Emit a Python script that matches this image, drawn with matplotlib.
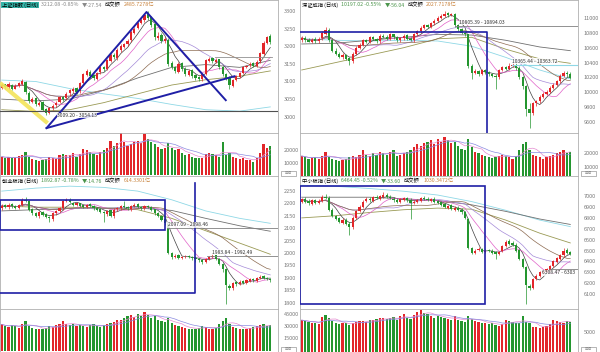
import numpy as np
import pandas as pd
import matplotlib
matplotlib.use('Agg')
import matplotlib.pyplot as plt
from matplotlib.patches import Rectangle

plt.rcParams['font.family'] = ['Noto Sans CJK SC', 'DejaVu Sans']

# ---------------------------------------------------------------- data
ma_idx = [0, 10, 20, 30, 40, 50, 60, 70, 79]

# 上证指数
sh_close = [3090,3085,3092,3080,3088,3095,3100, 3070,3045,3050,3035,3040,3020,3010,
            3025,3030,3040,3055,3050,3065,3075, 3080,3070,3095,3120,3130,3115,3110,
            3125,3140,3135,3160,3175,3170,3190, 3200,3205,3215,3240,3250,3265,3275,3288,
            3280,3260,3225,3230,3215,3220,3150, 3140,3130,3150,3135,3120,3130,3115,3110,3108,
            3120,3160,3165,3158,3162,3140, 3120,3110,3090,3105,
            3115,3125,3140,3145,3150,3145,3155, 3180,3210,3225,3212]
sh_open = [3082,3092,3083,3090,3080,3088,3093, 3098,3068,3042,3052,3033,3042,3022,
           3012,3026,3032,3042,3056,3052,3066, 3072,3082,3072,3096,3118,3128,3117,
           3108,3127,3141,3136,3158,3176,3168, 3188,3198,3207,3217,3238,3252,3266,3274,
           3290,3282,3262,3222,3232,3214,3218, 3152,3142,3128,3152,3136,3118,3132,3117,3112,
           3106,3122,3158,3167,3156,3163, 3142,3122,3112,3088,
           3103,3113,3124,3142,3147,3152,3143, 3157,3178,3208,3228]
sh_high = [3095,3094,3098,3092,3092,3098,3108, 3100,3072,3055,3055,3045,3045,3025,
           3028,3035,3045,3060,3060,3070,3080, 3085,3085,3098,3125,3135,3132,3120,
           3128,3145,3145,3165,3180,3180,3195, 3205,3210,3220,3245,3255,3270,3280,3292,
           3300,3285,3265,3240,3238,3225,3222, 3158,3145,3155,3155,3140,3135,3135,3120,3115,
           3125,3165,3170,3170,3168,3165, 3145,3125,3115,3108,
           3118,3128,3145,3148,3155,3155,3160, 3185,3215,3230,3235]
sh_low = [3078,3080,3080,3075,3078,3085,3090, 3065,3040,3038,3030,3030,3015,3005,
          3008,3020,3028,3038,3045,3048,3060, 3068,3065,3068,3092,3115,3110,3105,
          3105,3122,3130,3132,3155,3165,3162, 3185,3195,3202,3212,3235,3248,3262,3270,
          3275,3255,3218,3218,3210,3210,3145, 3135,3125,3125,3130,3115,3115,3110,3105,3102,
          3100,3118,3155,3152,3152,3135, 3115,3105,3080,3085,
          3100,3110,3120,3138,3142,3140,3140, 3152,3175,3205,3205]
sh_vol = [15000,14000,14500,13500,14000,15500,16500, 19000,15000,13000,12000,11500,12000,13000,
          15000,14000,13000,16000,17000,16500,16000, 18000,15000,17000,21000,20000,18500,17000,
          16000,19000,20000,22000,28000,24000,26000, 34000,27000,24000,25000,27000,28000,26000,33000,
          29000,27000,25000,23000,21000,22000,26000, 22000,20000,21000,18000,16000,17000,15000,14000,13500,
          14000,17000,18000,17000,16000,15000, 27000,16000,18000,15000,
          14000,13000,13500,12000,12500,11000,14000, 18000,25000,22000,24000]
sh_ma_cyan = [3104, 3100, 3080, 3065, 3052, 3035, 3020, 3016, 3028]
sh_ma_gray = [3050, 3045, 3050, 3075, 3110, 3140, 3148, 3140, 3160]
sh_ma_olive = [3020, 3015, 3020, 3040, 3065, 3090, 3105, 3115, 3130]

# 深证成指
sz_close = [10730,10700,10680,10710,10690,10720, 10800,10840,
            10700,10560,10520,10480,10500,10450,10420, 10520,10600,10640,
            10700,10680,10740,10720,10690,10760,
            10750,10720,10780,10740,10700,10730,10760,10720,10700,
            10780,10820,10870,10900,10880,10930,10960, 11000,11030,11060,11040,11050,
            10900,10850,10800,10780, 10350,10260,
            10280,10250,10300,10270,10240,10220,10200, 10300,10340,10320,10360,10370,
            10330,10200,10080, 9780,9720, 9850,9880,9940,9980,10010,
            10060,10100,10150,10220,10260,10240,10197]
sz_open = [10700,10735,10705,10680,10715,10690, 10725,10790,
           10840,10700,10560,10520,10470,10505,10455, 10420,10520,10600,
           10640,10705,10680,10745,10720,10690,
           10760,10750,10720,10780,10740,10700,10725,10765,10720,
           10700,10780,10820,10870,10905,10880,10930, 10960,11000,11030,11065,11040,
           11050,10900,10850,10800, 10780,10350,
           10260,10285,10250,10305,10270,10240,10225, 10200,10300,10345,10320,10360,
           10370,10330,10200, 10080,9780, 9720,9850,9880,9940,9980,
           10010,10060,10100,10150,10220,10265,10240]
sz_high = [10760,10760,10730,10730,10740,10740, 10830,10880,
           10860,10720,10590,10540,10530,10520,10470, 10540,10620,10660,
           10720,10720,10760,10760,10730,10780,
           10790,10770,10800,10790,10760,10750,10780,10780,10740,
           10800,10840,10890,10920,10920,10950,10980, 11020,11060,11100,11080,11070,
           11070,10920,10870,10820, 10790,10380,
           10310,10300,10320,10320,10290,10260,10240, 10320,10360,10360,10390,10400,
           10390,10350,10220, 10100,9850, 9870,9900,9960,10000,10030,
           10080,10120,10170,10240,10290,10290,10270]
sz_low = [10680,10680,10680,10660,10670,10670, 10700,10770,
          10680,10540,10500,10460,10450,10430,10370, 10400,10500,10580,
          10620,10660,10660,10700,10670,10670,
          10730,10700,10700,10720,10680,10680,10700,10700,10690,
          10680,10760,10800,10850,10860,10860,10910, 10940,10980,11010,11010,11020,
          10880,10830,10780,10760, 10330,10180,
          10240,10220,10230,10250,10220,10200,10050, 10180,10280,10300,10300,10340,
          10300,10180,10040, 9680,9520, 9700,9820,9860,9920,9960,
          9990,10040,10080,10130,10200,10210,10180]
sz_vol = [18000,17000,16000,16500,17500,16000, 18000,21000,
          17000,16000,15000,14500,15000,16000,17000, 18000,17000,19000,
          22000,19000,18000,20000,19000,21000,
          20000,19000,21000,22000,18000,19000,20000,21000,22000,
          24000,26000,25000,27000,28000,29000,26000, 30000,28000,31000,29000,27000,
          28000,25000,23000,22000, 30000,24000,
          21000,20000,19000,18000,17000,16500,17000, 18000,19000,18000,17000,16000,
          18000,22000,26000, 28000,22000, 19000,18000,17000,16000,17000,
          18000,19000,20000,21000,22000,20000,21000]
sz_ma_cyan = [10720, 10700, 10690, 10700, 10690, 10620, 10470, 10300, 10180]
sz_ma_gray = [10650, 10660, 10700, 10740, 10780, 10770, 10700, 10610, 10560]
sz_ma_olive = [10300, 10400, 10500, 10600, 10720, 10740, 10580, 10450, 10390]

# 创业板指
cyb_close = [2190,2185,2195,2188,2182,2192, 2215,2210,
             2175,2160,2150,2165,2155,2145,2140, 2160,2170,2180,
             2210,2215,2205,2195,2200,2190,
             2185,2195,2190,2180,2175,2165,2160,2170,2150,
             2175,2180,2190,2185,2180,2190,2195, 2185,2180,2190,2185,2175,
             2160,2150,2135,2120, 2000,1985,
             1990,1980,1985,1988,1982,1978,1975, 1970,1965,1975,1985,1990,
             1975,1955,1935, 1870,1860, 1880,1875,1885,1880,1890,
             1895,1890,1900,1905,1900,1895,1893]
cyb_open = [2180,2192,2184,2196,2190,2183, 2192,2216,
            2210,2176,2162,2148,2166,2156,2146, 2138,2160,2170,
            2180,2212,2216,2204,2194,2201,
            2192,2184,2196,2191,2181,2176,2166,2158,2172,
            2148,2176,2180,2191,2186,2178,2190, 2196,2186,2180,2191,2186,
            2176,2162,2150,2136, 2118,2000,
            1984,1991,1980,1986,1989,1983,1979, 1976,1971,1964,1976,1984,
            1991,1976,1956, 1934,1868, 1858,1882,1874,1886,1879,
            1889,1896,1889,1899,1906,1901,1896]
cyb_high = [2198,2196,2200,2200,2194,2198, 2222,2225,
            2214,2180,2166,2170,2170,2160,2150, 2165,2175,2185,
            2215,2222,2222,2208,2205,2204,
            2195,2198,2200,2195,2185,2180,2170,2175,2175,
            2180,2185,2195,2210,2190,2195,2200, 2200,2190,2195,2195,2190,
            2178,2165,2152,2140, 2120,2005,
            1995,1995,1990,1992,1992,1988,1982, 1980,1975,1978,1990,1998,
            1994,1980,1960, 1938,1875, 1885,1888,1890,1892,1895,
            1900,1900,1905,1910,1910,1905,1900]
cyb_low = [2175,2180,2178,2182,2178,2178, 2188,2205,
           2170,2155,2145,2142,2150,2140,2125, 2130,2155,2165,
           2175,2205,2200,2188,2190,2185,
           2180,2180,2185,2175,2170,2160,2125,2150,2145,
           2140,2170,2175,2180,2175,2170,2185, 2180,2175,2175,2180,2170,
           2155,2145,2130,2115, 1995,1975,
           1980,1975,1975,1980,1978,1972,1965, 1962,1955,1960,1970,1980,
           1970,1950,1925, 1795,1850, 1852,1868,1870,1875,1875,
           1885,1885,1885,1895,1895,1890,1885]
cyb_vol = [32000,30000,29000,31000,30000,28000, 33000,36000,
           30000,28000,27000,26000,27000,28000,30000, 29000,31000,33000,
           36000,33000,31000,32000,30000,31000,
           30000,29000,31000,32000,30000,29000,31000,33000,34000,
           35000,38000,37000,40000,42000,44000,41000, 45000,43000,47000,44000,40000,
           42000,38000,36000,35000, 40000,34000,
           31000,30000,29000,28000,27000,26000,27000, 28000,30000,29000,27000,26000,
           28000,32000,36000, 40000,33000, 29000,28000,27000,26000,27000,
           28000,29000,30000,31000,32000,30000,31000]
cyb_ma_cyan = [2250, 2262, 2270, 2265, 2250, 2215, 2170, 2140, 2120]
cyb_ma_gray = [2170, 2175, 2180, 2182, 2182, 2172, 2140, 2110, 2088]
cyb_ma_olive = [2190, 2185, 2185, 2180, 2175, 2140, 2090, 2040, 1995]

# 中小板指
zxb_close = [6970,6950,6935,6960,6940,6955, 6990,6980,
             6870,6820,6790,6760,6780,6740,6720, 6800,6860,6900,
             6950,6970,6960,6990,6980,7000,
             7010,6990,6980,6960,6950,6970,6980,6960,6940,
             6950,6960,6980,6970,6960,6970,6950, 6940,6920,6900,6910,6880,
             6890,6870,6850,6800, 6520,6480,
             6500,6510,6490,6500,6495,6480,6470, 6490,6540,6580,6560,6550,
             6500,6420,6350, 6180,6160, 6240,6270,6300,6310,6330,
             6360,6400,6430,6460,6500,6480,6464]
zxb_open = [6950,6975,6955,6930,6965,6935, 6955,6995,
            6985,6875,6815,6795,6755,6785,6745, 6715,6800,6860,
            6900,6955,6975,6955,6995,6975,
            6995,7015,6995,6975,6965,6945,6965,6985,6965,
            6935,6945,6955,6985,6975,6955,6975, 6955,6945,6925,6895,6915,
            6875,6895,6875,6855, 6790,6525,
            6475,6505,6515,6485,6505,6500,6485, 6465,6495,6545,6585,6565,
            6555,6505,6425, 6345,6175, 6155,6235,6265,6295,6305,
            6325,6355,6395,6425,6455,6505,6485]
zxb_high = [6985,6990,6970,6975,6975,6970, 7010,7020,
            7000,6890,6830,6810,6800,6800,6760, 6815,6870,6915,
            6960,6990,6990,7000,7010,7015,
            7035,7030,7010,6990,6980,6985,6995,6995,6980,
            6965,6975,6995,7000,6990,6985,6990, 6965,6955,6940,6920,6925,
            6905,6910,6890,6865, 6800,6535,
            6515,6530,6525,6510,6515,6510,6495, 6500,6550,6595,6605,6585,
            6565,6515,6435, 6355,6190, 6250,6280,6310,6320,6340,
            6370,6410,6440,6470,6520,6520,6500]
zxb_low = [6940,6940,6920,6920,6930,6925, 6945,6970,
           6860,6810,6780,6750,6745,6735,6640, 6700,6790,6850,
           6890,6945,6950,6945,6970,6965,
           6985,6980,6970,6950,6940,6935,6955,6945,6790,
           6925,6935,6950,6960,6955,6945,6940, 6930,6910,6890,6885,6870,
           6860,6860,6840,6790, 6510,6470,
           6465,6495,6480,6480,6485,6470,6420, 6455,6485,6535,6550,6540,
           6490,6410,6340, 6010,6140, 6145,6225,6255,6285,6300,
           6315,6345,6385,6415,6445,6470,6455]
zxb_vol = [7800,7500,7300,7000,7200,6900, 8500,9000,
           8200,7600,7000,6800,7000,7200,6500, 7200,7400,7500,
           7600,7400,7900,7700,8000,8200,
           8400,8000,8300,8600,7800,8800,9200,8400,8000,
           9000,9800,10200,9600,9200,8800,8400, 8900,8600,8200,8000,7800,
           8800,7800,7600,7400, 8900,8000,
           7600,7400,7000,7200,6800,7000,6600, 6400,6800,7900,7600,7400,
           7200,7000,8800, 7300,7000, 6200,6000,5800,6100,6400,
           6800,7800,7600,7400,7200,7500,7400]
zxb_ma_cyan = [7100, 7090, 7070, 7045, 7010, 6950, 6870, 6780, 6720]
zxb_ma_gray = [6990, 6990, 6990, 6975, 6960, 6920, 6860, 6790, 6740]
zxb_ma_olive = [6800, 6820, 6850, 6875, 6890, 6880, 6780, 6660, 6570]

# ---------------------------------------------------------------- style
W, H = 600, 352
UP = '#e2262a'
DOWN = '#24962f'
BLUE = '#1f1fa6'
fig = plt.figure(figsize=(W / 100, H / 100), dpi=100)
renderer = fig.canvas.get_renderer()


def px_axes(x0, y0, x1, y1):
    return fig.add_axes([x0 / W, 1 - y1 / H, (x1 - x0) / W, (y1 - y0) / H])


def style_axes(ax, ticks, lim):
    ax.set_xlim(-0.5, 278 / 3.4 - 0.5)
    ax.set_ylim(*lim)
    ax.set_xticks([])
    ax.yaxis.tick_right()
    ax.set_yticks(ticks)
    ax.set_yticklabels([str(t) for t in ticks])
    ax.tick_params(axis='y', length=0, pad=4, labelsize=4.0, labelcolor='#7a7a7a')
    for s in ax.spines.values():
        s.set_color('#b0b0b0')
        s.set_linewidth(0.6)


def draw_panel(x0, y0, o, c, h, l, v, plim, pticks, vlim, vticks, longs, title):
    o, c, h, l, v = map(np.asarray, (o, c, h, l, v))
    x = np.arange(len(c))
    up = c >= o
    col = np.where(up, UP, DOWN)

    ax = px_axes(x0, y0, x0 + 278, y0 + 133)
    style_axes(ax, pticks, plim)
    # long moving averages
    for vals, color in zip(longs, ['#8fd8e6', '#707070', '#9a9a55']):
        ax.plot(ma_idx, vals, color=color, lw=0.6, zorder=1)
    # short moving averages
    cs = pd.Series(c)
    for w, color in [(5, '#404040'), (10, '#e061c8'), (20, '#a48ad8'), (30, '#8c6a50')]:
        ax.plot(x, cs.rolling(w, min_periods=1).mean(), color=color, lw=0.5, zorder=2)
    tiny = (plim[1] - plim[0]) / 250
    ax.vlines(x, l, h, colors=col, lw=0.5, zorder=3)
    ax.bar(x, np.maximum(np.abs(c - o), tiny), bottom=np.minimum(o, c),
           width=0.62, color=col, lw=0, zorder=4)

    # title line, pieces placed one after another
    xpos = x0 + 2
    for txt, color, bg in title:
        kw = {}
        if bg:
            kw['bbox'] = dict(boxstyle='square,pad=0.1', fc=bg, ec='none')
        t = fig.text(xpos / W, 1 - (y0 + 5) / H, txt, fontsize=3.8, color=color,
                     va='center', ha='left', zorder=10, **kw)
        xpos += t.get_window_extent(renderer).width + 3

    axv = px_axes(x0, y0 + 133, x0 + 278, y0 + 176)
    style_axes(axv, vticks, vlim)
    axv.bar(x, v, width=0.7, color=col, lw=0)
    vs = pd.Series(v)
    axv.plot(x, vs.rolling(5, min_periods=1).mean(), color='#e48ad0', lw=0.5)
    axv.plot(x, vs.rolling(10, min_periods=1).mean(), color='#8a8ae0', lw=0.5)
    # small button below the axis labels
    fig.patches.append(Rectangle(((x0 + 281) / W, 1 - (y0 + 175.5) / H), 15 / W, 4.5 / H,
                                 transform=fig.transFigure, fill=False, ec='#999999', lw=0.5))
    fig.text((x0 + 288.5) / W, 1 - (y0 + 173.2) / H, '区间', fontsize=2.6, color='#888888',
             ha='center', va='center')
    return ax


def label(ax, xi, yv, txt, va):
    ax.text(xi, yv, txt, fontsize=3.6, color='#333333', va=va, ha='left', zorder=9,
            bbox=dict(boxstyle='square,pad=0.05', fc='white', ec='none', alpha=0.8))


GREEN_T = '#4a944a'
AMT = '#c8823c'

# 上证指数
ax = draw_panel(0, 0, sh_open, sh_close, sh_high, sh_low, sh_vol,
                (2954, 3331), [3000, 3050, 3100, 3150, 3200, 3250, 3300],
                (-800, 34200), [10000, 20000],
                [sh_ma_cyan, sh_ma_gray, sh_ma_olive],
                [('上证指数 (日线)', 'black', '#35b5a9'), ('3212.08 -0.85%', '#888888', None),
                 ('▼-27.54', '#888888', None), ('成交额', 'black', None),
                 ('2485.7278亿', AMT, None)])
ax.plot([-0.5, 13.5], [3096, 2982], color='#f3e45a', lw=3, alpha=0.9, zorder=5, solid_capstyle='butt')
ax.plot([13.2, 42.6, 65.9], [2968, 3297, 3047], color=BLUE, lw=1.4, zorder=6)
ax.plot([13.2, 68.5], [2968, 3115], color=BLUE, lw=1.4, zorder=6)
ax.axhline(3016, color='#505050', lw=0.8, zorder=5)
ax.plot([62.6, 79.4], [3169, 3169], color='#909090', lw=0.6, zorder=5)
label(ax, 16.2, 3010, '3009.20 - 3054.13', 'top')

# 深证成指
ax = draw_panel(300, 0, sz_open, sz_close, sz_high, sz_low, sz_vol,
                (9452, 11242), [9600, 9800, 10000, 10200, 10400, 10600, 10800, 11000],
                (4000, 34000), [10000, 20000],
                [sz_ma_cyan, sz_ma_gray, sz_ma_olive],
                [('深证成指 (日线)', 'black', None), ('10197.02 -0.55%', GREEN_T, None),
                 ('▼-56.04', GREEN_T, None), ('成交额', 'black', None),
                 ('2027.7178亿', AMT, None)])
ax.plot([-0.5, 54.4, 54.4], [10812, 10812, 9452], color=BLUE, lw=1.2, zorder=6)
ax.plot([45, 82], [10892, 10892], color='#808080', lw=0.6, zorder=5)
ax.plot([61.8, 82], [10367, 10367], color='#8fd8e6', lw=0.8, zorder=5)
label(ax, 46.2, 10910, '10805.39 - 10894.03', 'bottom')
label(ax, 61.8, 10385, '10365.44 - 10363.72', 'bottom')

# 创业板指
ax = draw_panel(0, 176, cyb_open, cyb_close, cyb_high, cyb_low, cyb_vol,
                (1774, 2311), [1800, 1850, 1900, 1950, 2000, 2050, 2100, 2150, 2200, 2250],
                (-1800, 51000), [15000, 30000, 45000],
                [cyb_ma_cyan, cyb_ma_gray, cyb_ma_olive],
                [('创业板指 (日线)', 'black', None), ('1892.87 -0.78%', GREEN_T, None),
                 ('▼-14.76', GREEN_T, None), ('成交额', 'black', None),
                 ('614.3301亿', AMT, None)])
ax.add_patch(Rectangle((-0.5, 2091), 48.4, 122, fill=False, ec=BLUE, lw=1.2, zorder=6))
ax.plot([-0.5, 56.8, 56.8], [1839, 1839, 2283], color=BLUE, lw=1.2, zorder=6)
ax.plot([48.5, 82], [2100, 2100], color='#808080', lw=0.6, zorder=5)
ax.plot([60.3, 82], [1990, 1990], color='#808080', lw=0.6, zorder=5)
label(ax, 48.8, 2104, '2097.09 - 2098.46', 'bottom')
label(ax, 61.8, 1994, '1983.84 - 1992.49', 'bottom')

# 中小板指
ax = draw_panel(300, 176, zxb_open, zxb_close, zxb_high, zxb_low, zxb_vol,
                (5963, 7185), [6100, 6200, 6300, 6400, 6500, 6600, 6700, 6800, 6900, 7000],
                (0, 10500), [5000],
                [zxb_ma_cyan, zxb_ma_gray, zxb_ma_olive],
                [('中小板指 (日线)', 'black', None), ('6464.45 -0.52%', GREEN_T, None),
                 ('▼-33.60', GREEN_T, None), ('成交额', 'black', None),
                 ('1030.3472亿', AMT, None)])
ax.add_patch(Rectangle((-0.5, 6009), 54.3, 1084, fill=False, ec=BLUE, lw=1.2, zorder=6))
ax.plot([72.6, 82], [6333, 6333], color='#808080', lw=0.6, zorder=5)
label(ax, 70.8, 6318, '6308.47 - 6303', 'top')

fig.savefig('out.png', dpi=100)
